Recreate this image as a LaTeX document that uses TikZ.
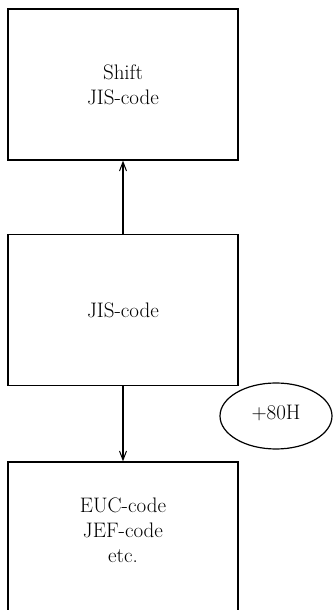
\documentclass[tikz,border=0pt]{standalone}
\usetikzlibrary{arrows.meta,shapes.geometric}
\begin{document}
\begin{tikzpicture}[x=1pt,y=1pt,
  txt/.style={font=\fontsize{21}{25}\selectfont},
  box/.style={draw,line width=1.3pt,minimum width=230pt,minimum height=151pt,align=center,inner sep=0pt,txt},
  conn/.style={line width=1.2pt,-{Straight Barb[length=9pt,width=7pt,line width=1pt]}},
  lbl/.style={draw,ellipse,line width=1.2pt,minimum width=112pt,minimum height=66pt,inner sep=0pt,txt}]
\useasboundingbox (0,0) rectangle (333,610);
\clip (0,0) rectangle (333,610);
\node[box] (shift) at (123,525.5) {Shift\\JIS-code};
\node[box] (jis) at (123,300) {JIS-code};
\node[box,minimum height=170pt] (euc) at (123,63) {};
\node[align=center,txt] (euctext) at (123,80) {EUC-code\\JEF-code\\etc.};
\node[lbl] (add) at (276,194) {\raisebox{8pt}{+80H}};
\draw[conn] (jis.north) -- (shift.south);
\draw[conn] (jis.south) -- (euc.north);
\end{tikzpicture}
\end{document}
